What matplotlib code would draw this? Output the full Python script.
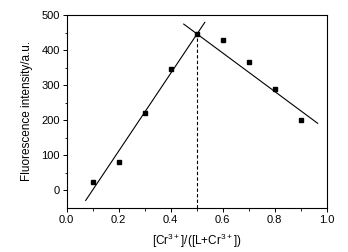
import matplotlib
matplotlib.use('Agg')
import matplotlib.pyplot as plt
import numpy as np

# mole fraction of Cr3+ and measured fluorescence
fraction = [0.1, 0.2, 0.3, 0.4, 0.5, 0.6, 0.7, 0.8, 0.9]
intensity = [22, 81, 220, 345, 445, 429, 365, 289, 200]

# fitted lines: (slope, intercept, x start, x end)
rise_fit = (1110, -110.4, 0.073, 0.531)
fall_fit = (-550, 721.5, 0.450, 0.965)
break_x = 0.5
break_top = 440

plt.rcParams['font.family'] = ['Liberation Sans', 'DejaVu Sans']
plt.rcParams['font.size'] = 8
plt.rcParams['mathtext.fontset'] = 'custom'
plt.rcParams['mathtext.rm'] = 'Liberation Sans'
plt.rcParams['mathtext.default'] = 'rm'

fig = plt.figure(figsize=(3.48, 2.52), dpi=100)
ax = fig.add_axes((0.1917, 0.176, 0.7473, 0.7645))

ax.plot(fraction, intensity, 's', color='black', markersize=3.4)

for slope, icpt, x0, x1 in (rise_fit, fall_fit):
    xs = np.array([x0, x1])
    ax.plot(xs, slope * xs + icpt, color='black', lw=0.8)

ax.plot([break_x, break_x], [-50, break_top], color='black', lw=0.8, ls=(0, (3, 2)))

ax.set_xlim(0, 1.0)
ax.set_ylim(-50, 500)
ax.set_xticks(np.arange(0, 1.01, 0.2))
ax.set_xticks(np.arange(0.1, 1.0, 0.2), minor=True)
ax.set_yticks(np.arange(0, 501, 100))
ax.set_yticks(np.arange(50, 500, 100), minor=True)
ax.xaxis.set_major_formatter(matplotlib.ticker.FormatStrFormatter('%.1f'))

ax.tick_params(which='major', length=3, width=0.7, direction='out', pad=2)
ax.tick_params(which='minor', length=1.8, width=0.6, direction='out')
for sp in ax.spines.values():
    sp.set_linewidth(0.8)

ax.set_ylabel('Fluorescence intensity/a.u.', fontsize=8.5, labelpad=6)
ax.set_xlabel('[Cr$^{3+}$]/([L+Cr$^{3+}$])', fontsize=8.5, labelpad=5)

plt.savefig('out.png', dpi=100)
